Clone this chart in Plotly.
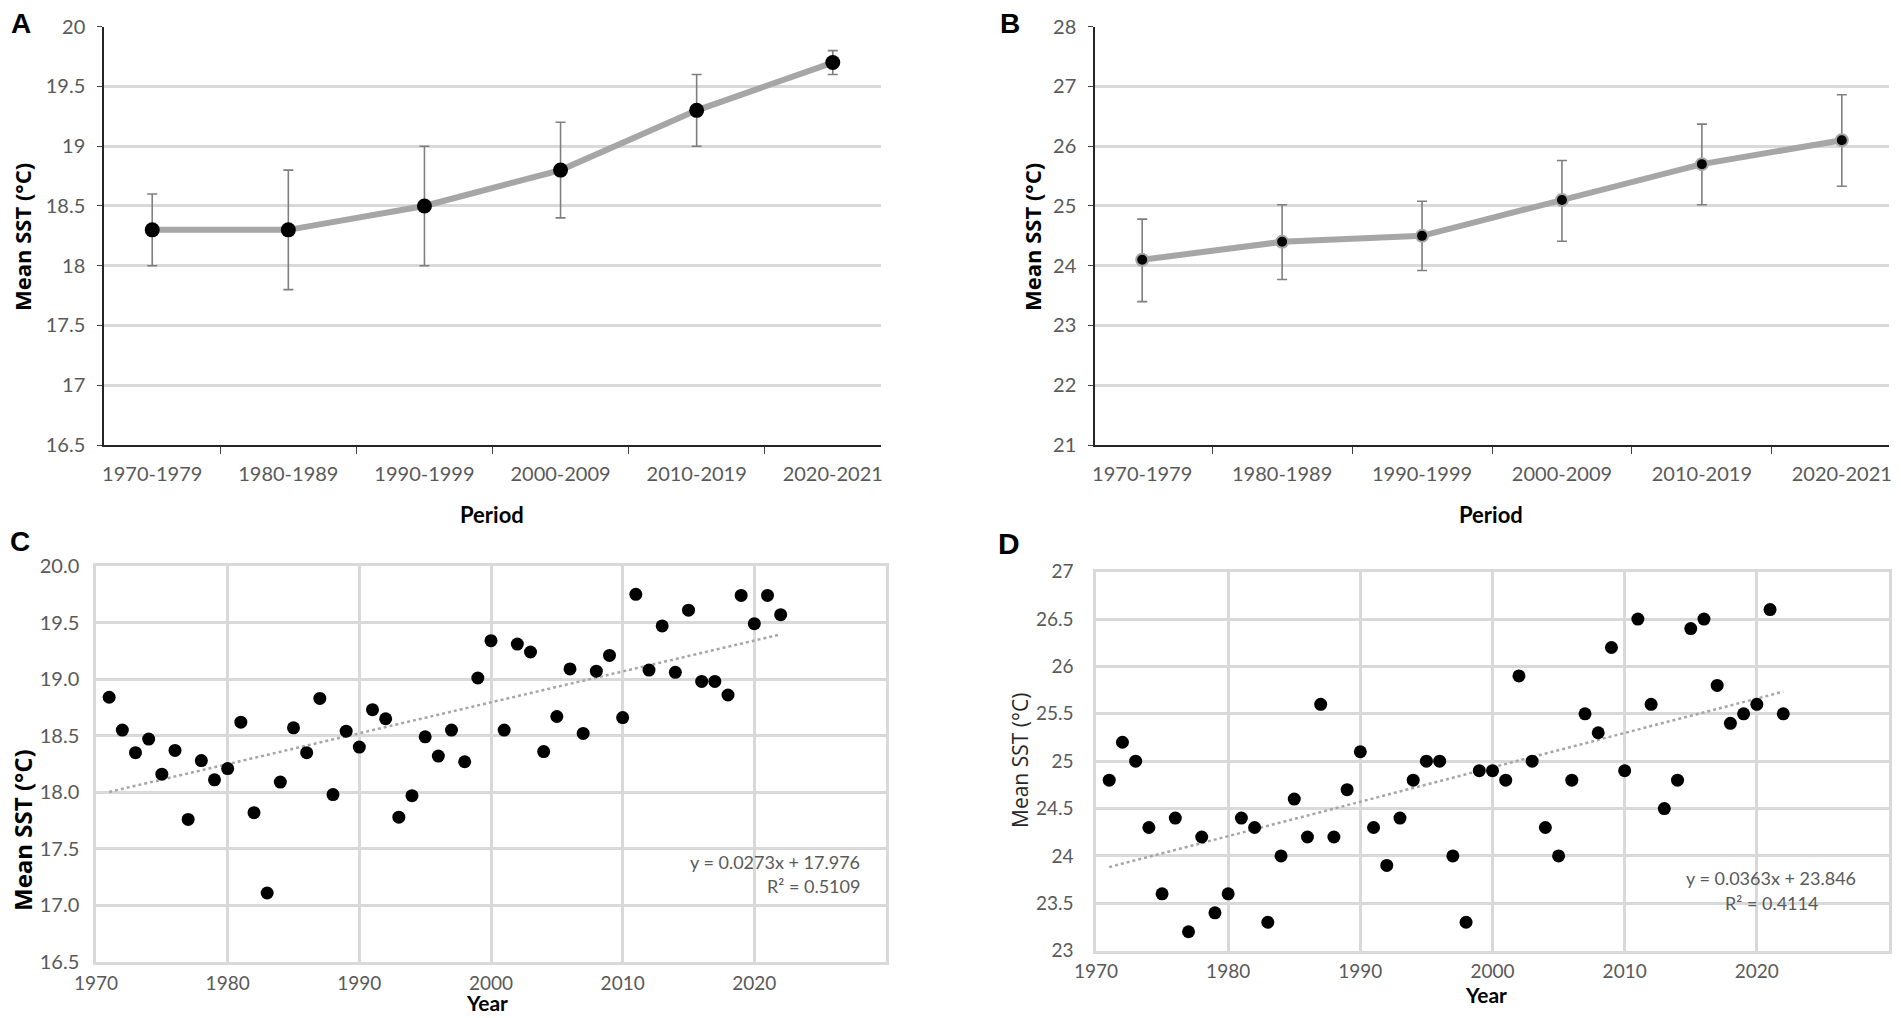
import plotly.graph_objects as go

# ---- data ----
periods = ["1970-1979", "1980-1989", "1990-1999", "2000-2009", "2010-2019", "2020-2021"]

a_mean = [18.3, 18.3, 18.5, 18.8, 19.3, 19.7]
a_upper = [18.6, 18.8, 19.0, 19.2, 19.6, 19.8]
a_lower = [18.0, 17.8, 18.0, 18.4, 19.0, 19.6]

b_mean = [24.1, 24.4, 24.5, 25.1, 25.7, 26.1]
b_upper = [24.78, 25.02, 25.08, 25.76, 26.37, 26.86]
b_lower = [23.40, 23.77, 23.92, 24.41, 25.02, 25.33]

years = list(range(1971, 2023))

c_sst = [18.84, 18.55, 18.35, 18.47, 18.16, 18.37, 17.76, 18.28, 18.11, 18.21,
         18.62, 17.82, 17.11, 18.09, 18.57, 18.35, 18.83, 17.98, 18.54, 18.40,
         18.73, 18.65, 17.78, 17.97, 18.49, 18.32, 18.55, 18.27, 19.01, 19.34,
         18.55, 19.31, 19.24, 18.36, 18.67, 19.09, 18.52, 19.07, 19.21, 18.66,
         19.75, 19.08, 19.47, 19.06, 19.61, 18.98, 18.98, 18.86, 19.74, 19.49,
         19.74, 19.57]

d_sst = [24.8, 25.2, 25.0, 24.3, 23.6, 24.4, 23.2, 24.2, 23.4, 23.6,
         24.4, 24.3, 23.3, 24.0, 24.6, 24.2, 25.6, 24.2, 24.7, 25.1,
         24.3, 23.9, 24.4, 24.8, 25.0, 25.0, 24.0, 23.3, 24.9, 24.9,
         24.8, 25.9, 25.0, 24.3, 24.0, 24.8, 25.5, 25.3, 26.2, 24.9,
         26.5, 25.6, 24.5, 24.8, 26.4, 26.5, 25.8, 25.4, 25.5, 25.6,
         26.6, 25.5]

# Excel trendline coefficients (x = index 1..n)
c_slope, c_icpt, c_r2 = 0.0273, 17.976, 0.5109
d_slope, d_icpt, d_r2 = 0.0363, 23.846, 0.4114

W, H = 1901, 1018
TICK_FONT = "Lato, 'Open Sans', sans-serif"
BOLD_FONT = "'Open Sans', 'Liberation Sans', Arial, sans-serif"
LETTER_FONT = "'Liberation Sans', Arial, sans-serif"
GRID = "#d9d9d9"
TXT = "#595959"


def px(x):
    return x / W


def py(y):
    return 1 - y / H


def trend(slope, icpt, n):
    return [slope * 1 + icpt, slope * n + icpt]


fig = go.Figure()

# ---- A & B: period means with error bars ----
fig.add_trace(go.Scatter(
    x=periods, y=a_mean, xaxis="x", yaxis="y", mode="lines+markers",
    line=dict(color="#a6a6a6", width=6),
    marker=dict(color="black", size=15),
    error_y=dict(type="data", symmetric=False,
                 array=[u - m for u, m in zip(a_upper, a_mean)],
                 arrayminus=[m - l for m, l in zip(a_mean, a_lower)],
                 color="#7f7f7f", thickness=1.6, width=5),
    showlegend=False, hoverinfo="skip"))

fig.add_trace(go.Scatter(
    x=periods, y=b_mean, xaxis="x2", yaxis="y2", mode="lines+markers",
    line=dict(color="#a6a6a6", width=6),
    marker=dict(color="black", size=12, line=dict(color="#a6a6a6", width=2)),
    error_y=dict(type="data", symmetric=False,
                 array=[u - m for u, m in zip(b_upper, b_mean)],
                 arrayminus=[m - l for m, l in zip(b_mean, b_lower)],
                 color="#7f7f7f", thickness=1.6, width=5),
    showlegend=False, hoverinfo="skip"))

# ---- C & D: yearly scatter with linear trend ----
fig.add_trace(go.Scatter(
    x=[years[0], years[-1]], y=trend(c_slope, c_icpt, len(years)),
    xaxis="x3", yaxis="y3", mode="lines",
    line=dict(color="#a6a6a6", width=2.5, dash="dot"),
    showlegend=False, hoverinfo="skip"))
fig.add_trace(go.Scatter(
    x=years, y=c_sst, xaxis="x3", yaxis="y3", mode="markers",
    marker=dict(color="black", size=13),
    showlegend=False, hoverinfo="skip"))

fig.add_trace(go.Scatter(
    x=[years[0], years[-1]], y=trend(d_slope, d_icpt, len(years)),
    xaxis="x4", yaxis="y4", mode="lines",
    line=dict(color="#a6a6a6", width=2.5, dash="dot"),
    showlegend=False, hoverinfo="skip"))
fig.add_trace(go.Scatter(
    x=years, y=d_sst, xaxis="x4", yaxis="y4", mode="markers",
    marker=dict(color="black", size=13),
    showlegend=False, hoverinfo="skip"))

cat_x = dict(type="category", tickson="boundaries", ticks="outside", ticklen=7,
             tickcolor="#404040", showline=True, linecolor="#262626", linewidth=2,
             showgrid=False, tickfont=dict(family=TICK_FONT, size=20, color=TXT),
             ticklabelstandoff=10, fixedrange=True, automargin=False)
cat_y = dict(ticks="outside", ticklen=5, tickcolor="#404040", showline=True,
             linecolor="#262626", linewidth=1.5, gridcolor=GRID, gridwidth=2.5,
             tickfont=dict(family=TICK_FONT, size=20, color=TXT),
             ticklabelstandoff=8, zeroline=False, fixedrange=True, automargin=False)
yr_x = dict(range=[1970, 2030], tickvals=[1970, 1980, 1990, 2000, 2010, 2020],
            ticks="", showline=True, mirror=True, linecolor=GRID, linewidth=2.5,
            showgrid=True, gridcolor=GRID, gridwidth=2.5, zeroline=False,
            tickfont=dict(family=TICK_FONT, size=19, color=TXT),
            ticklabelstandoff=2, fixedrange=True, automargin=False)
yr_y = dict(ticks="", showline=True, mirror=True, linecolor=GRID, linewidth=2.5,
            showgrid=True, gridcolor=GRID, gridwidth=2.5, zeroline=False,
            fixedrange=True, automargin=False)

fig.update_layout(
    width=W, height=H, margin=dict(l=0, r=0, t=0, b=0),
    paper_bgcolor="white", plot_bgcolor="white",
    xaxis=dict(cat_x, domain=[px(104), px(881)], anchor="y"),
    yaxis=dict(cat_y, domain=[py(445), py(26.7)], anchor="x",
               range=[16.5, 20], dtick=0.5),
    xaxis2=dict(cat_x, domain=[px(1095), px(1889)], anchor="y2"),
    yaxis2=dict(cat_y, domain=[py(445), py(26.7)], anchor="x2",
                range=[21, 28], dtick=1),
    xaxis3=dict(yr_x, domain=[px(96), px(886)], anchor="y3"),
    yaxis3=dict(yr_y, domain=[py(962), py(566)], anchor="x3",
                range=[16.5, 20], dtick=0.5, tickformat=".1f", ticklabelstandoff=10,
                tickfont=dict(family=TICK_FONT, size=20, color=TXT)),
    xaxis4=dict(yr_x, domain=[px(1096), px(1889)], anchor="y4"),
    yaxis4=dict(yr_y, domain=[py(950.7), py(571.7)], anchor="x4",
                range=[23, 27], dtick=0.5, ticklabelstandoff=16,
                tickfont=dict(family=TICK_FONT, size=19, color=TXT)),
)

ann = []


def label(text, x, y, size, bold=True, color="black", angle=0, font=BOLD_FONT,
          xanchor="center"):
    t = "<b>%s</b>" % text if bold else text
    ann.append(dict(text=t, x=px(x), y=py(y), xref="paper", yref="paper",
                    showarrow=False, textangle=angle, xanchor=xanchor,
                    yanchor="middle", font=dict(family=font, size=size, color=color)))


# panel letters
label("A", 21, 23, 28, font=LETTER_FONT)
label("B", 1010, 23, 28, font=LETTER_FONT)
label("C", 20, 541, 28, font=LETTER_FONT)
label("D", 1009, 543, 30, font=LETTER_FONT)

# axis titles
label("Mean SST (°C)", 22, 237, 22, angle=-90)
label("Mean SST (°C)", 1032, 237, 22, angle=-90)
label("Mean SST (°C)", 22, 830, 24, angle=-90)
label("Mean SST (°C)", 1020, 761, 21, bold=False, angle=-90, color="#262626")
label("Period", 492, 514, 22, font=TICK_FONT)
label("Period", 1491, 514, 22, font=TICK_FONT)
label("Year", 487, 1002, 21, font=TICK_FONT)
label("Year", 1486, 994, 21, font=TICK_FONT)

# trendline equations
label("y = %.4fx + %.3f" % (c_slope, c_icpt), 862, 862, 18, bold=False,
      color=TXT, font=TICK_FONT, xanchor="right")
label("R² = %.4f" % c_r2, 862, 886, 18, bold=False, color=TXT, font=TICK_FONT,
      xanchor="right")
label("y = %.4fx + %.3f" % (d_slope, d_icpt), 1771, 878, 18, bold=False,
      color=TXT, font=TICK_FONT)
label("R² = %.4f" % d_r2, 1771, 903, 18, bold=False, color=TXT, font=TICK_FONT)

fig.update_layout(annotations=ann)

# page body has a default 8px margin; drop it so the figure fills the window
fig.write_html("out.html", config={"displayModeBar": False},
               post_script="document.body.style.margin='0';")
